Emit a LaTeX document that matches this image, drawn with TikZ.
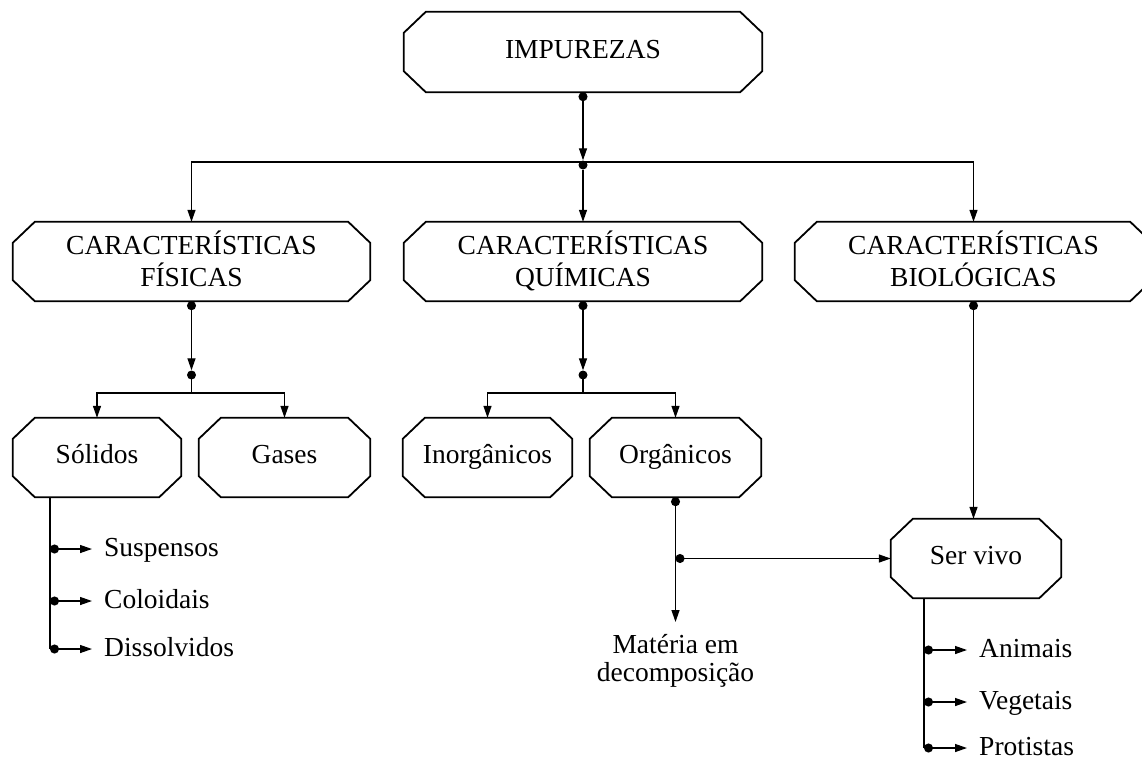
\documentclass[tikz,border=0pt]{standalone}
\usepackage{fontspec}
\setmainfont{Liberation Serif}
\usetikzlibrary{arrows.meta,calc}

% two centred lines with fixed height above and depth below
\newcommand\twolines[2]{\rule{0pt}{24pt}#1\\#2\rule[-6pt]{0pt}{6pt}}

\tikzset{
  txt/.style={font=\fontsize{27.5}{32}\selectfont},
  box/.style={txt, minimum height=79pt, inner sep=0pt, align=center},
  one/.style={text height=18pt, text depth=6pt},
  outline/.style={line width=1.8pt, line join=miter},
  conn/.style={line width=1.3pt},
  arr/.style={conn, -{Triangle[length=12pt,width=8pt]}},
  dotarr/.style={conn, {Circle[length=9pt]}-{Triangle[length=12pt,width=8pt]}},
  jdot/.style={circle, fill, inner sep=0pt, minimum size=9pt},
  item/.style={txt, anchor=west, inner sep=0pt, text height=18pt, text depth=4pt},
}

\begin{document}
\begin{tikzpicture}[x=1pt, y=-1pt]
\useasboundingbox (0,0) rectangle (1142,758);

% boxes
\node[box, one, minimum width=358pt, minimum height=80pt] (imp) at (583,52) {IMPUREZAS};
\node[box, minimum width=357pt] (fis) at (191.5,261.5) {\twolines{CARACTERÍSTICAS}{FÍSICAS}};
\node[box, minimum width=358pt] (qui) at (583,261.5) {\twolines{CARACTERÍSTICAS}{QUÍMICAS}};
\node[box, minimum width=357pt] (bio) at (973.5,261.5) {\twolines{CARACTERÍSTICAS}{BIOLÓGICAS}};
\node[box, one, minimum width=168pt] (sol) at (97,457.5) {Sólidos};
\node[box, one, minimum width=171pt] (gas) at (284.5,457.5) {Gases};
\node[box, one, minimum width=169pt] (ino) at (487.5,457.5) {Inorgânicos};
\node[box, one, minimum width=171pt] (org) at (675.5,457.5) {Orgânicos};
\node[box, one, minimum width=170pt] (ser) at (976,558.5) {Ser vivo};

% chamfered outlines
\foreach \n in {imp,fis,qui,bio,sol,gas,ino,org,ser}
  \draw[outline]
    ($(\n.north west)+(22pt,0pt)$) -- ($(\n.north east)+(-22pt,0pt)$)
    -- ($(\n.north east)+(0pt,-21pt)$) -- ($(\n.south east)+(0pt,21pt)$)
    -- ($(\n.south east)+(-22pt,0pt)$) -- ($(\n.south west)+(22pt,0pt)$)
    -- ($(\n.south west)+(0pt,21pt)$) -- ($(\n.north west)+(0pt,-21pt)$) -- cycle;

% junction dots
\node[jdot] (j1) at (583,165) {};
\node[jdot] (j2) at (191.5,375) {};
\node[jdot] (j3) at (583,375) {};
\coordinate (h1) at (583,162);

% top level
\draw[dotarr] (imp.south) -- (j1.north);
\draw[arr] (j1) -- (qui.north);
\draw[arr] (h1) -| (fis.north);
\draw[arr] (h1) -| (bio.north);

% physical branch
\draw[dotarr] (fis.south) -- (j2.north);
\draw[arr] (j2.center) -- ++(0,18) -| (sol.north);
\draw[arr] (j2.center) -- ++(0,18) -| (gas.north);

% chemical branch
\draw[dotarr] (qui.south) -- (j3.north);
\draw[arr] (j3.center) -- ++(0,18) -| (ino.north);
\draw[arr] (j3.center) -- ++(0,18) -| (org.north);

% organic matter
\node[txt, align=center, anchor=north, inner xsep=0pt, inner ysep=12pt,
      font=\fontsize{27.5}{28.5}\selectfont] (mat) at (675.5,622) {Matéria em\\decomposição};
\draw[dotarr] (org.south) -- (mat.north);
\draw[dotarr] (org.south |- ser.west) -- (ser.west);

% biological branch
\draw[dotarr] (bio.south) -- (bio.south |- ser.north);

% solids list
\coordinate (lx) at (50,0);
\node[item] (susp) at (104,549) {Suspensos};
\node[item] (colo) at (104,601) {Coloidais};
\node[item] (diss) at (104,649) {Dissolvidos};
\draw[conn] (sol.south -| lx) -- (diss.west -| lx);
\foreach \t in {susp,colo,diss}
  \draw[dotarr, shorten >=12pt] (\t.west -| lx) -- (\t.west);

% living beings list
\coordinate (rx) at (924,0);
\node[item] (ani) at (979,650) {Animais};
\node[item] (veg) at (979,702) {Vegetais};
\node[item] (pro) at (979,748) {Protistas};
\draw[conn] (ser.south -| rx) -- (pro.west -| rx);
\foreach \t in {ani,veg,pro}
  \draw[dotarr, shorten >=12pt] (\t.west -| rx) -- (\t.west);
\end{tikzpicture}
\end{document}
